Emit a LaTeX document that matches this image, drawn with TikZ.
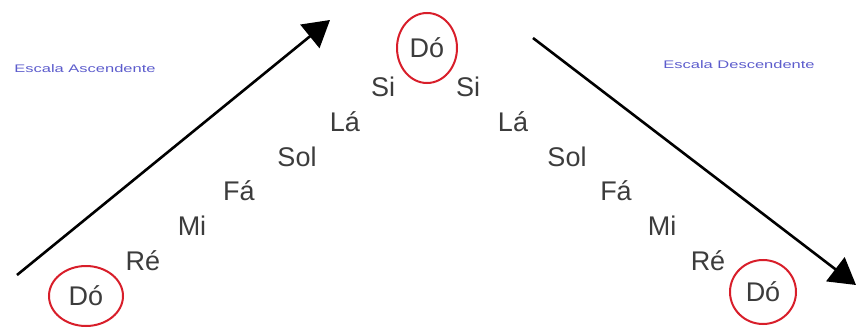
\documentclass[tikz,border=0pt]{standalone}
\usepackage{fontspec}
\setmainfont{Liberation Sans}
\usetikzlibrary{arrows.meta,shapes.geometric}
\definecolor{notegray}{HTML}{3C3C3C}
\definecolor{labelblue}{HTML}{5C5CCC}
\definecolor{ringred}{HTML}{D81E2A}
\begin{document}
\begin{tikzpicture}[x=1pt,y=-1pt,
  note/.style={inner sep=0pt,text=notegray,font=\fontsize{27}{27}\selectfont},
  ring/.style={note,ellipse,draw=ringred,line width=2pt},
  caption/.style={inner sep=0pt,text=labelblue,font=\fontsize{11}{11}\selectfont,xscale=1.5},
  scalearrow/.style={line width=2.6pt,-{Triangle[length=26pt,width=30pt]}}]
  \useasboundingbox (0,0) rectangle (857,334);
  % captions
  \node[caption] (asc) at (85,69) {Escala Ascendente};
  \node[caption] (desc) at (739,65) {Escala Descendente};
  % ascending scale
  \node[ring,minimum width=74pt,minimum height=60pt] (do1) at (86,296) {Dó};
  \node[note] (re1) at (143,261) {Ré};
  \node[note] (mi1) at (192,226) {Mi};
  \node[note] (fa1) at (239,191) {Fá};
  \node[note] (sol1) at (297,157) {Sol};
  \node[note] (la1) at (345,122) {Lá};
  \node[note] (si1) at (383,87) {Si};
  % top note
  \node[ring,minimum width=60pt,minimum height=70pt] (do2) at (427,48) {Dó};
  % descending scale
  \node[note] (si2) at (468,87) {Si};
  \node[note] (la2) at (513,122) {Lá};
  \node[note] (sol2) at (567,157) {Sol};
  \node[note] (fa2) at (616,191) {Fá};
  \node[note] (mi2) at (662,226) {Mi};
  \node[note] (re2) at (708,261) {Ré};
  \node[ring,minimum width=66pt,minimum height=64pt] (do3) at (763,292) {Dó};
  % direction arrows
  \coordinate (ascstart) at (17,275);
  \coordinate (ascend) at (330,20);
  \coordinate (descstart) at (533,38);
  \coordinate (descend) at (856,285);
  \draw[scalearrow] (ascstart) -- (ascend);
  \draw[scalearrow] (descstart) -- (descend);
\end{tikzpicture}
\end{document}
